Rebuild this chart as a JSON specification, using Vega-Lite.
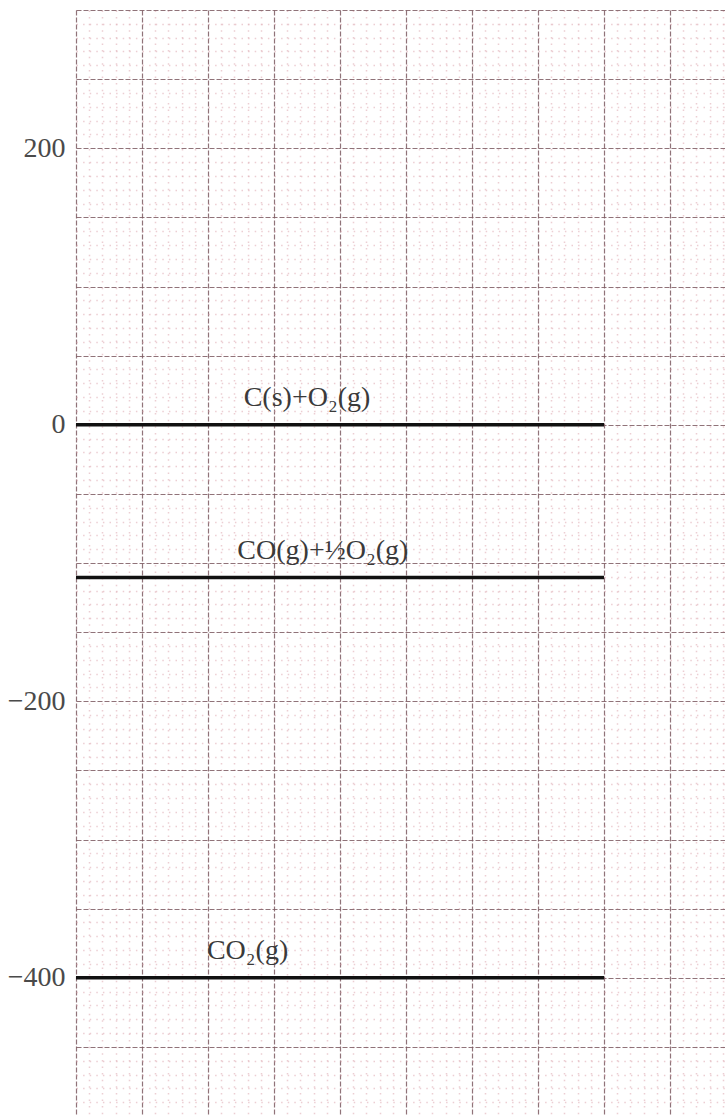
{
  "$schema": "https://vega.github.io/schema/vega-lite/v6.json",
  "width": 660,
  "height": 1106,
  "autosize": {"type": "none"},
  "padding": {"left": 76, "top": 10, "right": 0, "bottom": 0},
  "background": "white",
  "config": {"view": {"stroke": null}},
  "data": {
    "values": [
      {"species": "C(s)+O₂(g)", "energy": 0, "x0": 0, "x1": 40, "labelX": 17.5},
      {"species": "CO(g)+½O₂(g)", "energy": -110.5, "x0": 0, "x1": 40, "labelX": 18.7},
      {"species": "CO₂(g)", "energy": -400, "x0": 0, "x1": 40, "labelX": 13.0}
    ]
  },
  "layer": [
    {
      "mark": {"type": "rule", "color": "#111111", "strokeWidth": 3.5},
      "encoding": {
        "x": {
          "field": "x0", "type": "quantitative",
          "scale": {"domain": [0, 50], "nice": false, "zero": false},
          "axis": {
            "title": null, "labels": false, "ticks": false, "domain": false,
            "values": [0,1,2,3,4,5,6,7,8,9,10,11,12,13,14,15,16,17,18,19,20,21,22,23,24,25,26,27,28,29,30,31,32,33,34,35,36,37,38,39,40,41,42,43,44,45,46,47,48,49,50],
            "gridColor": {"condition": {"test": "datum.value % 5 === 0", "value": "#7d5a62"}, "value": "#e2b4bb"},
            "gridDash": {"condition": {"test": "datum.value % 5 === 0", "value": [5, 2]}, "value": [1.5, 5.1]},
            "gridWidth": {"condition": {"test": "datum.value % 5 === 0", "value": 1.2}, "value": 1.5},
            "gridOpacity": {"condition": {"test": "datum.value % 5 === 0", "value": 0.85}, "value": 0.65}
          }
        },
        "x2": {"field": "x1"},
        "y": {
          "field": "energy", "type": "quantitative",
          "scale": {"domain": [-500, 300], "nice": false, "zero": false},
          "axis": {
            "title": null, "ticks": false, "domain": false,
            "values": [-500,-490,-480,-470,-460,-450,-440,-430,-420,-410,-400,-390,-380,-370,-360,-350,-340,-330,-320,-310,-300,-290,-280,-270,-260,-250,-240,-230,-220,-210,-200,-190,-180,-170,-160,-150,-140,-130,-120,-110,-100,-90,-80,-70,-60,-50,-40,-30,-20,-10,0,10,20,30,40,50,60,70,80,90,100,110,120,130,140,150,160,170,180,190,200,210,220,230,240,250,260,270,280,290,300],
            "labelExpr": "datum.value % 200 === 0 ? datum.label : ''",
            "labelOverlap": false,
            "labelFont": "Liberation Serif",
            "labelFontSize": 28,
            "labelColor": "#4a4a4a",
            "labelPadding": 11,
            "gridColor": {"condition": {"test": "datum.value % 50 === 0", "value": "#7d5a62"}, "value": "#e2b4bb"},
            "gridDash": {"condition": {"test": "datum.value % 50 === 0", "value": [5, 2]}, "value": [1.5, 5.1]},
            "gridWidth": {"condition": {"test": "datum.value % 50 === 0", "value": 1.2}, "value": 1.5},
            "gridOpacity": {"condition": {"test": "datum.value % 50 === 0", "value": 0.85}, "value": 0.65}
          }
        }
      }
    },
    {
      "mark": {"type": "text", "font": "Liberation Serif", "fontSize": 28, "color": "#3a3a3a", "align": "center", "baseline": "alphabetic", "dy": -19},
      "encoding": {
        "x": {
          "field": "labelX", "type": "quantitative",
          "axis": {
            "title": null, "labels": false, "ticks": false, "domain": false,
            "values": [0,1,2,3,4,5,6,7,8,9,10,11,12,13,14,15,16,17,18,19,20,21,22,23,24,25,26,27,28,29,30,31,32,33,34,35,36,37,38,39,40,41,42,43,44,45,46,47,48,49,50],
            "gridColor": {"condition": {"test": "datum.value % 5 === 0", "value": "#7d5a62"}, "value": "#e2b4bb"},
            "gridDash": {"condition": {"test": "datum.value % 5 === 0", "value": [5, 2]}, "value": [1.5, 5.1]},
            "gridWidth": {"condition": {"test": "datum.value % 5 === 0", "value": 1.2}, "value": 1.5},
            "gridOpacity": {"condition": {"test": "datum.value % 5 === 0", "value": 0.85}, "value": 0.65}
          }
        },
        "y": {
          "field": "energy", "type": "quantitative",
          "axis": {
            "title": null, "ticks": false, "domain": false,
            "values": [-500,-490,-480,-470,-460,-450,-440,-430,-420,-410,-400,-390,-380,-370,-360,-350,-340,-330,-320,-310,-300,-290,-280,-270,-260,-250,-240,-230,-220,-210,-200,-190,-180,-170,-160,-150,-140,-130,-120,-110,-100,-90,-80,-70,-60,-50,-40,-30,-20,-10,0,10,20,30,40,50,60,70,80,90,100,110,120,130,140,150,160,170,180,190,200,210,220,230,240,250,260,270,280,290,300],
            "labelExpr": "datum.value % 200 === 0 ? datum.label : ''",
            "labelOverlap": false,
            "labelFont": "Liberation Serif",
            "labelFontSize": 28,
            "labelColor": "#4a4a4a",
            "labelPadding": 11,
            "gridColor": {"condition": {"test": "datum.value % 50 === 0", "value": "#7d5a62"}, "value": "#e2b4bb"},
            "gridDash": {"condition": {"test": "datum.value % 50 === 0", "value": [5, 2]}, "value": [1.5, 5.1]},
            "gridWidth": {"condition": {"test": "datum.value % 50 === 0", "value": 1.2}, "value": 1.5},
            "gridOpacity": {"condition": {"test": "datum.value % 50 === 0", "value": 0.85}, "value": 0.65}
          }
        },
        "text": {"field": "species"}
      }
    }
  ]
}
